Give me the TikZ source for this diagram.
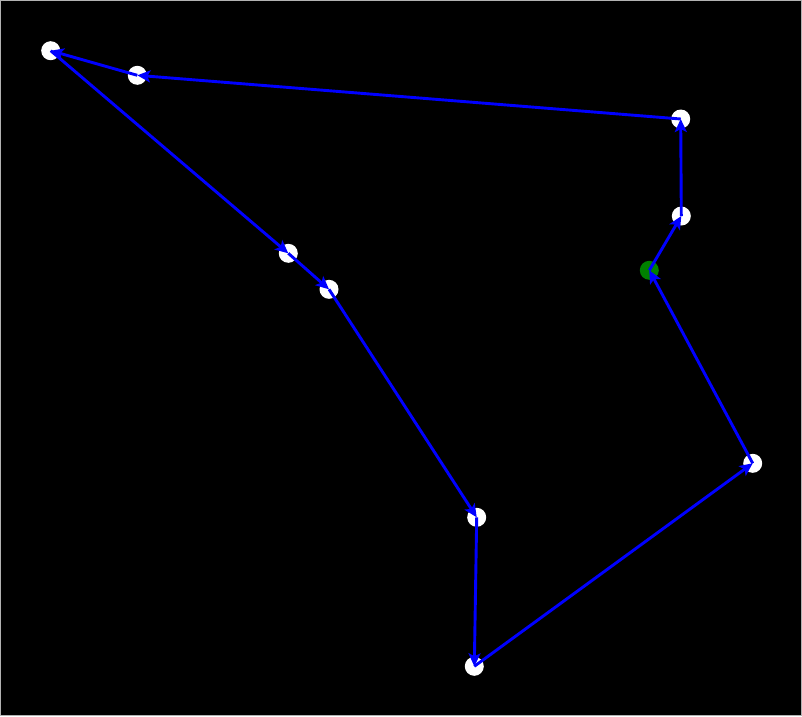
\documentclass[tikz,border=0pt]{standalone}
\usetikzlibrary{arrows.meta}
\tikzset{
  dot/.style={circle,fill=white,draw=none,minimum size=19pt,inner sep=0pt},
  startdot/.style={dot,fill={rgb,255:red,0;green,128;blue,0}},
  tour/.style={draw={rgb,255:red,0;green,0;blue,255},line width=2.9pt,
    -{Stealth[length=13pt,width=12pt,inset=3pt]}}
}
\begin{document}
\begin{tikzpicture}[x=1pt,y=-1pt]
\fill[black] (0,0) rectangle (802,716);
\useasboundingbox (0,0) rectangle (802,716);
\draw[gray!60,line width=1pt] (0.5,0.5) rectangle (801.5,715.5);
\node[dot] (A) at (50.7,50.7) {};
\node[dot] (B) at (137.3,75.3) {};
\node[dot] (C) at (680.7,119) {};
\node[dot] (D) at (681.3,216) {};
\node[startdot] (E) at (649.3,270.3) {};
\node[dot] (F) at (752.7,463.3) {};
\node[dot] (G) at (474.3,666.3) {};
\node[dot] (H) at (476.7,517.3) {};
\node[dot] (I) at (329,289.3) {};
\node[dot] (J) at (288.3,253.3) {};
\path[tour] (E.center) -- (D.center);
\path[tour] (D.center) -- (C.center);
\path[tour] (C.center) -- (B.center);
\path[tour] (B.center) -- (A.center);
\path[tour] (A.center) -- (J.center);
\path[tour] (J.center) -- (I.center);
\path[tour] (I.center) -- (H.center);
\path[tour] (H.center) -- (G.center);
\path[tour] (G.center) -- (F.center);
\path[tour] (F.center) -- (E.center);
\end{tikzpicture}
\end{document}
